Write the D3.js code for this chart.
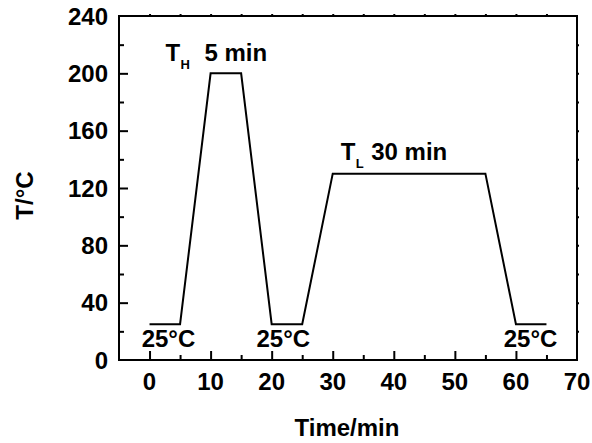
<!DOCTYPE html>
<html><head><meta charset="utf-8">
<script src="https://cdn.jsdelivr.net/npm/d3@7"></script>
<style>body{margin:0;background:#fff}svg{display:block}text{font-family:"Liberation Sans",Arial,sans-serif;font-weight:bold;fill:#000}</style>
</head><body>
<script>
const timeMin = [0, 5, 10, 15, 20, 25, 30, 55, 60, 65];
const tempC   = [25, 25, 200, 200, 25, 25, 130, 130, 25, 25];
const xTickLabels = [0, 10, 20, 30, 40, 50, 60, 70];
const yTickLabels = [0, 40, 80, 120, 160, 200, 240];
const xMinorTicks = [5, 15, 25, 35, 45, 55, 65];
const yMinorTicks = [20, 60, 100, 140, 180, 220];
const roomLabels = [{x: 3.1, y: 9.3, t: "25°C"}, {x: 21.9, y: 9.3, t: "25°C"}, {x: 62.4, y: 9.3, t: "25°C"}];
const holdLabels = [{x: 2.6, y: 208.6, main: "T", sub: "H", rest: "5 min", restX: 9.0},
                    {x: 31.3, y: 139.5, main: "T", sub: "L", rest: "30 min", restX: 36.3}];

const W = 592, H = 443;
const m = {l: 119, r: 577, t: 16, b: 360};
const svg = d3.select("body").append("svg").attr("width", W).attr("height", H);
const x = d3.scaleLinear().domain([-5, 70]).range([m.l, m.r]);
const y = d3.scaleLinear().domain([0, 240]).range([m.b, m.t]);

// axes: ticks inward
const gx = svg.append("g").attr("transform", `translate(0,${m.b})`)
  .call(d3.axisTop(x).tickValues(xTickLabels.filter(v => v < 70)).tickSize(9).tickFormat(""));
const gxm = svg.append("g").attr("transform", `translate(0,${m.b})`)
  .call(d3.axisTop(x).tickValues(xMinorTicks).tickSize(5).tickFormat(""));
const gy = svg.append("g").attr("transform", `translate(${m.l},0)`)
  .call(d3.axisRight(y).tickValues(yTickLabels.filter(v => v > 0 && v < 240)).tickSize(9).tickFormat(""));
const gym = svg.append("g").attr("transform", `translate(${m.l},0)`)
  .call(d3.axisRight(y).tickValues(yMinorTicks).tickSize(5).tickFormat(""));
// top/right tiny outward ticks
const gt = svg.append("g").attr("transform", `translate(0,${m.t})`)
  .call(d3.axisTop(x).tickValues(xTickLabels.concat(xMinorTicks).filter(v => v > -5 && v < 70)).tickSize(2).tickFormat(""));
const gr = svg.append("g").attr("transform", `translate(${m.r},0)`)
  .call(d3.axisRight(y).tickValues(yTickLabels.concat(yMinorTicks).filter(v => v > 0 && v < 240)).tickSize(2).tickFormat(""));
[gx, gxm, gy, gym, gt, gr].forEach(g => {
  g.select(".domain").remove();
  g.selectAll("line").attr("stroke", "#000").attr("stroke-width", 2);
});

// frame
svg.append("rect").attr("x", m.l).attr("y", m.t).attr("width", m.r - m.l).attr("height", m.b - m.t)
  .attr("fill", "none").attr("stroke", "#000").attr("stroke-width", 2);

// tick labels
svg.append("g").selectAll("text").data(xTickLabels).join("text")
  .attr("x", d => x(d)).attr("y", 390).attr("text-anchor", "middle").attr("font-size", 24).text(d => d);
svg.append("g").selectAll("text").data(yTickLabels).join("text")
  .attr("x", m.l - 11).attr("y", d => y(d)).attr("dy", "0.36em").attr("text-anchor", "end").attr("font-size", 24).text(d => d);

// axis titles
svg.append("text").attr("x", 347).attr("y", 436).attr("text-anchor", "middle").attr("font-size", 24).text("Time/min");
svg.append("text").attr("transform", "translate(33,195.5) rotate(-90)").attr("text-anchor", "middle").attr("font-size", 24).text("T/°C");

// data line
svg.append("path").datum(timeMin.map((t, i) => [t, tempC[i]]))
  .attr("d", d3.line().x(d => x(d[0])).y(d => y(d[1])))
  .attr("fill", "none").attr("stroke", "#000").attr("stroke-width", 2).attr("stroke-linejoin", "miter");

// annotations
svg.append("g").selectAll("text").data(roomLabels).join("text")
  .attr("x", d => x(d.x)).attr("y", d => y(d.y)).attr("text-anchor", "middle").attr("font-size", 24).text(d => d.t);
holdLabels.forEach(d => {
  svg.append("text").attr("x", x(d.x)).attr("y", y(d.y)).attr("font-size", 24).text(d.main);
  svg.append("text").attr("x", x(d.x) + 15).attr("y", y(d.y) + 8).attr("font-size", 13).text(d.sub);
  svg.append("text").attr("x", x(d.restX)).attr("y", y(d.y)).attr("font-size", 24).text(d.rest);
});
</script>
</body></html>
